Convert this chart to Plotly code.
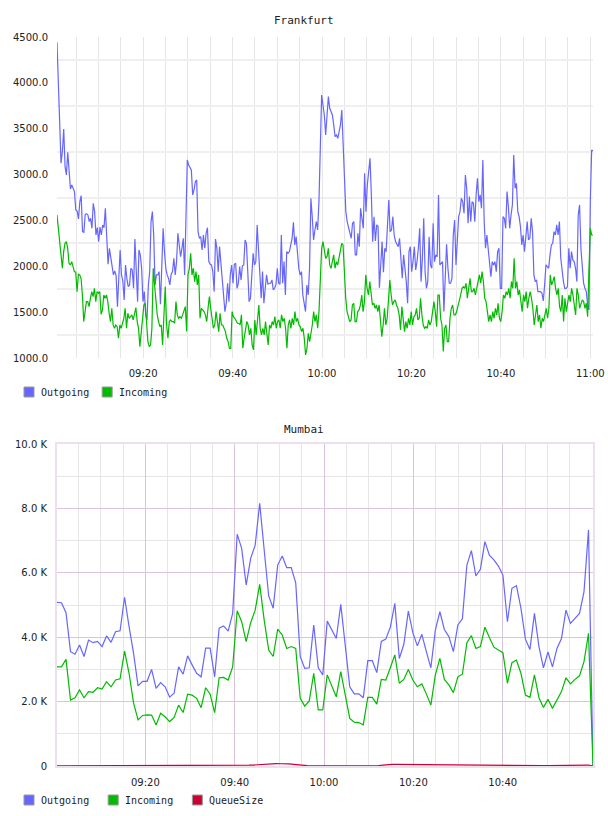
import pandas as pd
import plotly.graph_objects as go

# ---------------- DATA ----------------
series_names_fra = ["Outgoing", "Incoming"]
series_names_mum = ["Outgoing", "Incoming", "QueueSize"]
colors = {"Outgoing": "#6666ff", "Incoming": "#00bb00", "QueueSize": "#cc0033"}

fra_start, fra_end = "2013-01-01 09:00:44", "2013-01-01 11:00:36"
mum_start, mum_end = "2013-01-01 09:00:13", "2013-01-01 11:00:13"

fra_outgoing = [
    4442, 3977, 3577, 3123, 3250, 3497, 3087, 2996, 3243, 3068, 2843, 2887, 2850, 2814, 2614, 2603, 2516, 2705, 2770, 2378,
    2370, 2567, 2574, 2560, 2487, 2523, 2414, 2687, 2596, 2341, 2421, 2269, 2428, 2341, 2450, 2421, 2632, 2341, 2022, 2196,
    2105, 1978, 1906, 1949, 1898, 1560, 1978, 2178, 1906, 1840, 1633, 2014, 1869, 1778, 1796, 1978, 1960, 1760, 2297, 1906,
    1615, 2178, 2124, 1978, 1615, 1724, 1470, 1415, 1796, 1942, 2487, 2596, 2341, 1796, 1906, 1906, 1942, 1586, 1978, 2414,
    2160, 1978, 1906, 1869, 1796, 1913, 1942, 2087, 1906, 2051, 2360, 2196, 2105, 2196, 2305, 1906, 2741, 3159, 3105, 3068,
    3050, 2778, 2832, 2923, 2941, 2378, 2305, 2323, 2178, 2341, 2196, 2360, 2421, 2051, 2022, 2014, 1942, 1724, 2297, 2196,
    1942, 2214, 2051, 1906, 1687, 1506, 1597, 1815, 1615, 1906, 2014, 1815, 2022, 2033, 1760, 1815, 1997, 1851, 2005, 2014,
    2287, 2251, 1942, 1615, 1651, 1906, 2142, 2014, 2051, 2450, 2196, 1906, 1651, 1942, 1597, 1760, 1906, 1803, 1815, 1815,
    1851, 1742, 1760, 1803, 1978, 1815, 1803, 2341, 1815, 2051, 1687, 2160, 2142, 2160, 2233, 2305, 2479, 2233, 2323, 2160,
    1978, 1906, 1942, 1687, 1578, 1506, 1796, 1687, 1978, 2741, 2541, 2287, 2396, 2487, 2396, 2705, 3286, 3868, 3759, 3650,
    3432,
    3650, 3850, 3722, 3686, 3650, 3541, 3414, 3432, 3395, 3468, 3541, 3704, 3250, 2996, 2596, 2487, 2433, 2378, 2305, 2469,
    2487, 2124, 2124, 2360, 2214, 2632, 2523, 2414, 3014, 2596, 2887, 3087, 3177, 2778, 2269, 2541, 2276, 2451, 2433, 1767,
    2087, 2269, 1935, 2196, 2160, 2487, 2723, 2378, 2396, 2541, 2341, 2269, 2233, 2214, 2305, 2015, 1869, 2124, 1978, 1833,
    1597, 2160, 2214, 1942, 2051, 2214, 1960, 2051, 2196, 2414, 1833, 2087, 2523, 1942, 1760, 1833, 2323, 2015, 1978, 2469,
    2051, 2124, 2105, 2778, 2015, 2033, 2051, 1506, 2015, 2240, 1978, 1815, 1815, 1869, 2341, 2505, 2015, 2341, 2541, 2596,
    2741, 2705, 2578, 2996, 2850, 2469, 2760, 2487, 2705, 2687, 2487, 2778, 2959, 2705, 2778, 2632, 3159, 2487, 2196, 2341,
    2160, 1978, 1887, 2051, 2015, 2051, 1942, 2160, 2196, 1760, 1760, 2541, 2523, 2414, 2814, 2650, 2414, 2560, 2669, 3214,
    2850, 2905, 2596, 2541, 2433, 2233, 2341, 2160, 2341, 2487, 2287, 2305, 2523, 2378, 1906, 1833, 1851, 1724, 1724, 1724,
    1706, 1622, 1797, 2015, 1996, 1978, 2124, 2233, 2251, 2378, 2341, 2451, 2341, 2487, 2087, 1942, 1833, 1760, 1760, 1778,
    2196, 1978, 2160, 2069, 2051, 1978, 1833, 2560, 2669, 2196, 1978, 1815, 1760, 1724, 1578, 1524, 2705, 3268, 3257,
]

fra_incoming = [
    2560, 2414, 2341, 2196, 1978, 2160, 2251, 2269, 2196, 2033, 2014, 2051, 1978, 1942, 1935, 1724, 1913, 1906, 1869, 1687,
    1397, 1542, 1615, 1615, 1560, 1651, 1724, 1669, 1760, 1615, 1724, 1706, 1724, 1477, 1524, 1687, 1651, 1687, 1615, 1488,
    1397, 1542, 1360, 1324, 1360, 1342, 1215, 1360, 1324, 1379, 1433, 1542, 1324, 1488, 1433, 1451, 1470, 1415, 1470, 1550,
    1397, 1324, 1124, 1288, 1360, 1578, 1597, 1360, 1179, 1124, 1142, 1324, 1978, 1796, 1615, 1470, 1397, 1342, 1360, 1142,
    1470, 1778, 1360, 1215, 1397, 1415, 1397, 1397, 1379, 1615, 1470, 1433, 1451, 1433, 1470, 1506, 1560, 1288, 1906, 1978,
    2142, 1906, 1978, 1833, 1942, 1796, 1906, 1433, 1542, 1524, 1506, 1470, 1397, 1542, 1669, 1542, 1433, 1324, 1360, 1506,
    1397, 1288, 1488, 1360, 1360, 1324, 1288, 1215, 1179, 1106, 1106, 1506, 1451, 1433, 1397, 1379, 1379, 1360, 1470, 1106,
    1215, 1306, 1397, 1360, 1251, 1324, 1142, 1088, 1415, 1251, 1470, 1578, 1324, 1251, 1324, 1251, 1397, 1288, 1142, 1360,
    1324, 1397, 1360, 1451, 1324, 1397, 1415, 1324, 1470, 1397, 1433, 1324, 1106, 1360, 1415, 1324, 1433, 1360, 1506, 1397,
    1433, 1360, 1342, 1288, 1324, 1215, 1033, 1106, 1269, 1179, 1251, 1360, 1506, 1397, 1470, 1324, 1506, 1796, 2196, 2269,
    2196, 2087, 2105,
    2196, 2015, 1978, 2051, 2124, 1978, 2051, 2015, 2087, 2196, 2251, 2233, 1906, 1651, 1506, 1433, 1397, 1415, 1578, 1597,
    1397, 1397, 1506, 1524, 1578, 1687, 1506, 1615, 1906, 1760, 1687, 1833, 1687, 1578, 1597, 1542, 1578, 1506, 1578, 1360,
    1233, 1360, 1542, 1360, 1433, 1633, 1851, 1687, 1578, 1615, 1633, 1578, 1542, 1469, 1306, 1560, 1397, 1288, 1397, 1324,
    1433, 1360, 1506, 1360, 1451, 1469, 1542, 1415, 1433, 1651, 1469, 1360, 1324, 1342, 1324, 1415, 1360, 1397, 1506, 1615,
    1506, 1342, 1687, 1687, 1433, 1360, 1070, 1324, 1360, 1179, 1179, 1433, 1542, 1578, 1469, 1469, 1506, 1560, 1615, 1687,
    1760, 1778, 1760, 1815, 1651, 1797, 1869, 1724, 1724, 1760, 1687, 1760, 1833, 1906, 1815, 1942, 1833, 1651, 1615, 1469,
    1397, 1469, 1397, 1506, 1433, 1542, 1469, 1597, 1433, 1397, 1506, 1687, 1651, 1724, 1687, 1760, 1651, 1833, 1760, 2087,
    1760, 1833, 1687, 1742, 1615, 1506, 1687, 1615, 1724, 1542, 1651, 1724, 1651, 1542, 1360, 1469, 1578, 1397, 1469, 1324,
    1433, 1397, 1469, 1542, 1433, 1542, 1906, 1797, 1833, 1887, 1760, 1687, 1760, 1560, 1506, 1687, 1397, 1651, 1506, 1615,
    1687, 1615, 1760, 1687, 1542, 1469, 1760, 1687, 1542, 1597, 1633, 1615, 1542, 1597, 1451, 1978, 2414, 2341, 2341,
]

# Mumbai, in K
mum_outgoing_k = [
    5.08, 5.07, 4.76, 3.55, 3.47, 3.76, 3.40, 3.91, 3.83, 3.87, 3.71, 4.04, 3.84, 4.17, 4.20, 5.24, 4.33, 3.50, 2.49, 2.63,
    2.63, 3.00, 2.41, 2.59, 2.46, 2.14, 2.26, 3.08, 2.85, 3.42, 3.14, 2.88, 2.77, 3.66, 3.66, 2.77, 4.28, 4.35, 4.19, 4.74,
    7.20, 6.76, 5.62, 6.45, 6.86, 8.16, 6.71, 5.28, 4.90, 6.24, 6.52, 6.16, 6.16, 5.69, 3.40, 3.03, 3.05, 4.38, 3.05, 2.83,
    4.50, 4.22, 3.96, 5.02, 3.76, 2.46, 2.24, 2.24, 2.12, 3.27, 3.27, 2.90, 3.87, 3.94, 4.31, 5.05, 3.34, 3.78, 4.81, 4.14,
    3.73, 4.09, 3.55, 3.05, 4.22, 4.79, 4.24, 4.02, 3.55, 4.38, 4.57, 6.24, 6.69, 5.90, 6.11, 6.97, 6.55, 6.40, 6.21, 5.93,
    4.48, 5.52, 5.60, 4.90, 3.94, 3.62, 4.74, 3.71, 3.05, 3.54, 3.08, 3.65, 3.96, 4.84, 4.43, 4.59, 4.74, 5.41, 7.33, 0.03,
]
mum_incoming_k = [
    3.08, 3.08, 3.31, 2.05, 2.12, 2.36, 2.12, 2.31, 2.29, 2.43, 2.39, 2.62, 2.46, 2.67, 2.71, 3.57, 2.88, 1.95, 1.43, 1.57,
    1.59, 1.58, 1.27, 1.64, 1.53, 1.38, 1.51, 1.89, 1.66, 2.23, 2.20, 2.10, 1.81, 2.43, 2.23, 1.66, 2.74, 2.75, 2.67, 3.08,
    4.82, 4.48, 3.86, 4.45, 4.84, 5.64, 4.53, 3.60, 3.40, 4.25, 4.07, 3.65, 3.71, 3.65, 2.10, 1.86, 2.02, 2.88, 1.74, 1.74,
    2.83, 2.46, 2.15, 2.93, 2.26, 1.48, 1.36, 1.35, 1.28, 2.13, 2.13, 1.92, 2.69, 2.67, 3.05, 3.45, 2.57, 2.69, 3.00, 2.67,
    2.46, 2.55, 2.24, 1.89, 2.83, 3.34, 2.69, 2.52, 2.28, 2.77, 2.85, 3.83, 4.05, 3.65, 3.71, 4.31, 3.99, 3.69, 3.60, 3.52,
    2.57, 3.21, 3.29, 2.88, 2.20, 2.13, 2.83, 2.12, 1.82, 2.07, 1.79, 2.07, 2.31, 2.74, 2.55, 2.69, 2.80, 3.24, 4.12, 0.00,
]
mum_queue = [
    5, 5, 5, 8, 10, 12,
    18, 20, 22, 22, 20, 18, 15,
    12, 10, 10, 8, 8, 5, 5, 5, 5, 5, 5, 5, 5, 5, 5, 5, 5, 5, 5, 5, 5, 5, 5, 5, 5, 5, 8, 10,
    15, 20, 25, 30, 40,
    60, 75, 80, 75, 70, 72, 65,
    50, 30, 15, 10, 5, 5,
    5, 5, 5, 5, 5, 5, 5, 5, 5, 5, 5, 5, 5,
    15, 30, 45, 50, 50, 48, 48, 47, 46, 45,
    45, 44, 43, 42, 40, 40, 38, 36, 35, 33, 30, 28, 26, 25, 24, 22, 20, 18, 16,
    15, 14, 12, 12, 10, 10, 10, 10, 10, 10, 12, 14, 15, 18, 20, 22, 25, 28, 30,
    0,
]

fra_yticks = [1000, 1500, 2000, 2500, 3000, 3500, 4000, 4500]
fra_ygrid = [1250, 1750, 2250, 2750, 3250, 3750, 4250]
mum_yticks = [0, 2000, 4000, 6000, 8000, 10000]
mum_yticktext = ["0", "2.0 K", "4.0 K", "6.0 K", "8.0 K", "10.0 K"]
fra_xticks = ["09:20", "09:40", "10:00", "10:20", "10:40", "11:00"]
mum_xticks = ["09:20", "09:40", "10:00", "10:20", "10:40"]

# ---------------- FIGURE ----------------
W, H = 608, 816
ML, MR = 57, 15
PW = W - ML - MR


def py(px):
    return 1 - px / H


def pxx(px):
    return (px - ML) / PW


mono = "DejaVu Sans Mono"
sans = "DejaVu Sans"

fig = go.Figure()

fra_series = {"Outgoing": fra_outgoing, "Incoming": fra_incoming}
for name in series_names_fra:
    vals = fra_series[name]
    t = pd.date_range(fra_start, fra_end, periods=len(vals))
    fig.add_trace(go.Scatter(x=t, y=vals, mode="lines", name=name, showlegend=False,
                             line=dict(color=colors[name], width=1.2), xaxis="x", yaxis="y"))

mum_series = {"Outgoing": [v * 1000 for v in mum_outgoing_k],
              "Incoming": [v * 1000 for v in mum_incoming_k],
              "QueueSize": mum_queue}
for name in series_names_mum:
    vals = mum_series[name]
    t = pd.date_range(mum_start, mum_end, periods=len(vals))
    fig.add_trace(go.Scatter(x=t, y=vals, mode="lines", name=name, showlegend=False,
                             line=dict(color=colors[name], width=1.2), xaxis="x2", yaxis="y2"))

day = "2013-01-01 "
pink = "#dcc3dc"
pink_border = "#eedfee"
gray = "#e6e6e6"
tickfont = dict(family=sans, size=10, color="#222")

fig.update_layout(
    width=W, height=H,
    margin=dict(l=ML, r=MR, t=0, b=0, autoexpand=False),
    paper_bgcolor="white", plot_bgcolor="white",
    showlegend=False,
    font=dict(family=sans, size=10, color="#222"),
    xaxis=dict(
        type="date", domain=[0, 1], anchor="y", automargin=False,
        range=[fra_start, fra_end],
        tickvals=[day + t for t in fra_xticks], ticktext=fra_xticks,
        showgrid=True, gridcolor=gray, gridwidth=1,
        minor=dict(dtick=300000, showgrid=True, gridcolor=gray, gridwidth=1),
        ticks="outside", ticklen=6, tickcolor="rgba(0,0,0,0)",
        showline=False, zeroline=False, tickfont=tickfont,
    ),
    yaxis=dict(
        domain=[py(358), py(37)], anchor="x", automargin=False,
        range=[1000, 4500],
        tickvals=fra_yticks, ticktext=[f"{v:.1f}" for v in fra_yticks],
        showgrid=False,
        minor=dict(tickvals=fra_ygrid, showgrid=True, gridcolor="#efefef", gridwidth=2),
        ticks="outside", ticklen=6, tickcolor="rgba(0,0,0,0)",
        showline=False, zeroline=False, tickfont=tickfont,
    ),
    xaxis2=dict(
        type="date", domain=[0, 1], anchor="y2", automargin=False,
        range=[mum_start, mum_end],
        tickvals=[day + t for t in mum_xticks], ticktext=mum_xticks,
        showgrid=True, gridcolor=pink, gridwidth=1,
        minor=dict(dtick=300000, showgrid=True, gridcolor=gray, gridwidth=1),
        ticks="outside", ticklen=6, tickcolor="rgba(0,0,0,0)",
        showline=True, linecolor=pink_border, linewidth=2, mirror=True, zeroline=False,
        tickfont=tickfont,
    ),
    yaxis2=dict(
        domain=[py(766), py(444)], anchor="x2", automargin=False,
        range=[0, 10000],
        tickvals=mum_yticks, ticktext=mum_yticktext,
        showgrid=True, gridcolor=pink, gridwidth=1,
        minor=dict(dtick=1000, showgrid=True, gridcolor=gray, gridwidth=1),
        ticks="outside", ticklen=6, tickcolor="rgba(0,0,0,0)",
        showline=True, linecolor=pink_border, linewidth=2, mirror=True, zeroline=False,
        tickfont=tickfont,
    ),
)

annotations = []
shapes = []
# titles
for title, ypx in [("Frankfurt", 20.5), ("Mumbai", 429.5)]:
    annotations.append(dict(text=title, xref="paper", yref="paper", x=pxx(W / 2), y=py(ypx),
                            xanchor="center", yanchor="middle", showarrow=False,
                            font=dict(family=mono, size=11, color="#222")))

# legends (boxes + labels)
CH = 6.02
for names, ycen in [(series_names_fra, 392), (series_names_mum, 800)]:
    step = CH * max(len(n) for n in names) + 30
    for i, name in enumerate(names):
        x0 = 24 + i * step
        shapes.append(dict(type="rect", xref="paper", yref="paper",
                           x0=pxx(x0), x1=pxx(x0 + 10), y0=py(ycen + 5), y1=py(ycen - 5),
                           fillcolor=colors[name], line=dict(color="#999999", width=1)))
        annotations.append(dict(text=name, xref="paper", yref="paper", x=pxx(x0 + 15), y=py(ycen),
                                xanchor="left", yanchor="middle", showarrow=False,
                                font=dict(family=mono, size=10, color="#222")))

fig.update_layout(annotations=annotations, shapes=shapes)

fig.write_html("out.html", config={"displayModeBar": False})
